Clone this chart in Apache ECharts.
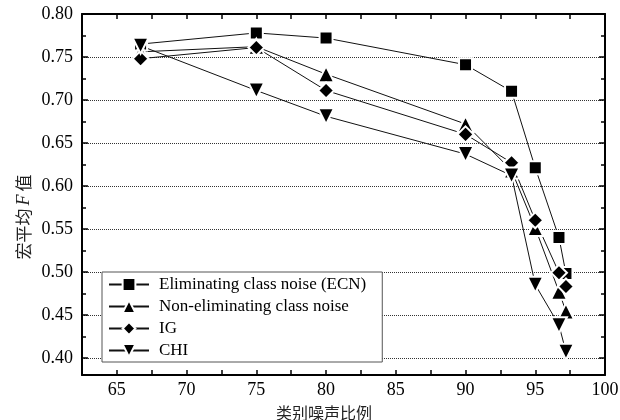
<!DOCTYPE html>
<html>
<head>
<meta charset="utf-8">
<script src="https://cdn.jsdelivr.net/npm/echarts@6/dist/echarts.min.js"></script>
<style>
html,body{margin:0;padding:0;background:#fff;}
#c{width:620px;height:420px;}
</style>
</head>
<body>
<div id="c"></div>
<script>
// noise ratio (%)
var noiseRatio = [66.7, 75, 80, 90, 93.3, 95, 96.7, 97.2];
var seriesNames = ['Eliminating class noise (ECN)', 'Non-eliminating class noise', 'IG', 'CHI'];
var ecnValues    = [0.765, 0.778, 0.772, 0.741, 0.710, 0.621, 0.540, 0.498];
var nonElimValues= [0.756, 0.762, 0.730, 0.672, 0.618, 0.551, 0.477, 0.454];
var igValues     = [0.748, 0.761, 0.711, 0.660, 0.627, 0.560, 0.499, 0.483];
var chiValues    = [0.763, 0.711, 0.681, 0.637, 0.612, 0.485, 0.438, 0.407];
var yTickLabels  = ['0.40','0.45','0.50','0.55','0.60','0.65','0.70','0.75','0.80'];
var xTickLabels  = ['65','70','75','80','85','90','95','100'];

function pairs(vals){ return noiseRatio.map(function(x,i){ return [x, vals[i]]; }); }

var serif = 'Liberation Serif';
var chart = echarts.init(document.getElementById('c'), null, {renderer:'canvas'});

function mk(name, vals, symbol, size, rot){
  return {
    name: name, type: 'line', xAxisIndex: 1, yAxisIndex: 2,
    data: pairs(vals), symbol: symbol, symbolSize: size, symbolRotate: rot || 0,
    showAllSymbol: true,
    lineStyle: {color: '#111', width: 1},
    itemStyle: {color: '#000', borderColor: '#fff', borderWidth: 2},
    emphasis: {disabled: true}, z: 3
  };
}

var option = {
  animation: false,
  backgroundColor: '#fff',
  grid: [
    {left: 82, top: 14, width: 523, height: 344, containLabel: false, outerBoundsMode: 'none'},
    {left: 82, top: 14, width: 523, height: 361, containLabel: false, outerBoundsMode: 'none'}
  ],
  xAxis: [
    {gridIndex: 0, type: 'value', min: 62.5, max: 100, show: false},
    {gridIndex: 1, type: 'value', position: 'bottom', min: 62.5, max: 100, interval: 2.5,
     axisLine: {show: true, lineStyle: {color: '#000', width: 2}},
     axisTick: {show: true, inside: true, length: 5, lineStyle: {color: '#000', width: 1.5}},
     splitLine: {show: false},
     axisLabel: {margin: 6, color: '#000', fontFamily: serif, fontSize: 18,
       formatter: function(v){ var s = String(Math.round(v*10)/10); return xTickLabels.indexOf(s) >= 0 ? s : ''; }},
     name: '类别噪声比例', nameLocation: 'middle', nameGap: 30,
     nameTextStyle: {fontFamily: 'Noto Sans CJK SC', fontSize: 16, color: '#222', padding: [0, 39, 0, 0]}
    },
    {gridIndex: 1, type: 'value', position: 'top', min: 62.5, max: 100, interval: 2.5,
     axisLine: {show: true, lineStyle: {color: '#000', width: 2}},
     axisTick: {show: true, inside: true, length: 5, lineStyle: {color: '#000', width: 1.5}},
     axisLabel: {show: false}, splitLine: {show: false}}
  ],
  yAxis: [
    {gridIndex: 0, type: 'value', position: 'left', min: 0.40, max: 0.80, interval: 0.05,
     axisLine: {show: false},
     axisTick: {show: true, inside: true, length: 6, lineStyle: {color: '#000', width: 1.5}},
     minorTick: {show: true, splitNumber: 2, length: 4, lineStyle: {color: '#000', width: 1.5}},
     splitLine: {show: true, showMaxLine: false, lineStyle: {color: '#333', width: 1, type: [1, 1]}},
     axisLabel: {margin: 9, color: '#000', fontFamily: serif, fontSize: 18,
       formatter: function(v){ var s = v.toFixed(2); return yTickLabels.indexOf(s) >= 0 ? s : ''; }}
    },
    {gridIndex: 0, type: 'value', position: 'right', min: 0.40, max: 0.80, interval: 0.05,
     axisLine: {show: false},
     axisTick: {show: true, inside: true, length: 6, lineStyle: {color: '#000', width: 1.5}},
     minorTick: {show: true, splitNumber: 2, length: 4, lineStyle: {color: '#000', width: 1.5}},
     splitLine: {show: false}, axisLabel: {show: false}},
    {gridIndex: 1, type: 'value', position: 'left', min: 0.38, max: 0.80,
     axisLine: {show: true, lineStyle: {color: '#000', width: 2}},
     axisTick: {show: false}, axisLabel: {show: false}, splitLine: {show: false},
     name: '宏平均{i|F}值', nameLocation: 'middle', nameGap: 49,
     nameTextStyle: {fontFamily: 'Noto Sans CJK SC', fontSize: 17, color: '#222', padding: [0, 45, 0, 0],
       rich: {i: {fontStyle: 'italic', fontFamily: serif, fontSize: 18, color: '#222', padding: [0, 3, 0, 3]}}}
    },
    {gridIndex: 1, type: 'value', position: 'right', min: 0.38, max: 0.80,
     axisLine: {show: true, lineStyle: {color: '#000', width: 2}},
     axisTick: {show: false}, axisLabel: {show: false}, splitLine: {show: false}}
  ],
  legend: {
    orient: 'vertical', left: 102, top: 272,
    data: seriesNames,
    backgroundColor: '#fff', borderColor: '#555', borderWidth: 1,
    padding: [4, 16, 3, 6],
    itemWidth: 40, itemHeight: 16, itemGap: 5,
    textStyle: {fontFamily: serif, fontSize: 17, lineHeight: 16, color: '#000', padding: [0, 0, 0, 5]},
    selectedMode: false
  },
  series: [
    mk(seriesNames[0], ecnValues, 'rect', 13),
    mk(seriesNames[1], nonElimValues, 'triangle', 16),
    mk(seriesNames[2], igValues, 'diamond', 16),
    mk(seriesNames[3], chiValues, 'triangle', 16, 180)
  ]
};
chart.setOption(option);
</script>
</body>
</html>
